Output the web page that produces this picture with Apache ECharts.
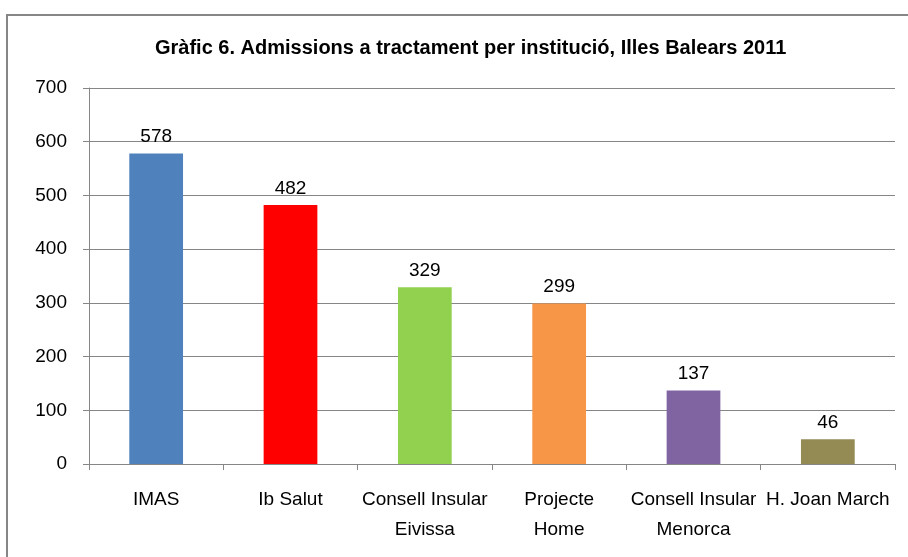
<!DOCTYPE html>
<html>
<head>
<meta charset="utf-8">
<script src="https://cdn.jsdelivr.net/npm/echarts@6/dist/echarts.min.js"></script>
<style>
html, body { margin: 0; padding: 0; background: #fff; }
#chart { width: 908px; height: 557px; }
</style>
</head>
<body>
<div id="chart"></div>
<script>
var categories = ['IMAS', 'Ib Salut', 'Consell Insular\nEivissa', 'Projecte\nHome', 'Consell Insular\nMenorca', 'H. Joan March'];
var values = [578, 482, 329, 299, 137, 46];
var barColors = ['#4F81BD', '#FF0000', '#92D050', '#F79646', '#8064A2', '#948A54'];
var titleText = 'Gràfic 6. Admissions a tractament per institució, Illes Balears 2011';

var fontFam = "'Liberation Sans', sans-serif";

var myChart = echarts.init(document.getElementById('chart'));

// dades per barra, cadascuna amb el seu color
var barData = [];
for (var i = 0; i < values.length; i++) {
    barData.push({ value: values[i], itemStyle: { color: barColors[i] } });
}

myChart.setOption({
    animation: false,
    graphic: [{
        type: 'rect',
        shape: { x: 7, y: 15, width: 920, height: 560 },
        style: { fill: 'none', stroke: '#868686', lineWidth: 2 }
    }],
    title: {
        text: titleText,
        left: 150,
        top: 33,
        textStyle: { fontFamily: fontFam, fontSize: 20, fontWeight: 'bold', color: '#000' }
    },
    grid: { left: 89, right: 13, top: 88, bottom: 93 },
    xAxis: {
        type: 'category',
        data: categories,
        axisLine: { lineStyle: { color: '#868686', width: 1 } },
        axisTick: { show: true, length: 6, lineStyle: { color: '#868686' } },
        axisLabel: {
            color: '#000', fontFamily: fontFam, fontSize: 19, lineHeight: 30,
            margin: 21, interval: 0
        }
    },
    yAxis: {
        type: 'value',
        min: 0, max: 700, interval: 100,
        axisLine: { show: true, lineStyle: { color: '#868686' } },
        axisTick: { show: true, length: 6, lineStyle: { color: '#868686' } },
        splitLine: { lineStyle: { color: '#868686', width: 1 } },
        axisLabel: { color: '#000', fontFamily: fontFam, fontSize: 19, margin: 22 }
    },
    series: [{
        type: 'bar',
        data: barData,
        barWidth: '40%',
        label: {
            show: true, position: 'top', distance: 7,
            color: '#000', fontFamily: fontFam, fontSize: 19
        }
    }]
});
</script>
</body>
</html>
